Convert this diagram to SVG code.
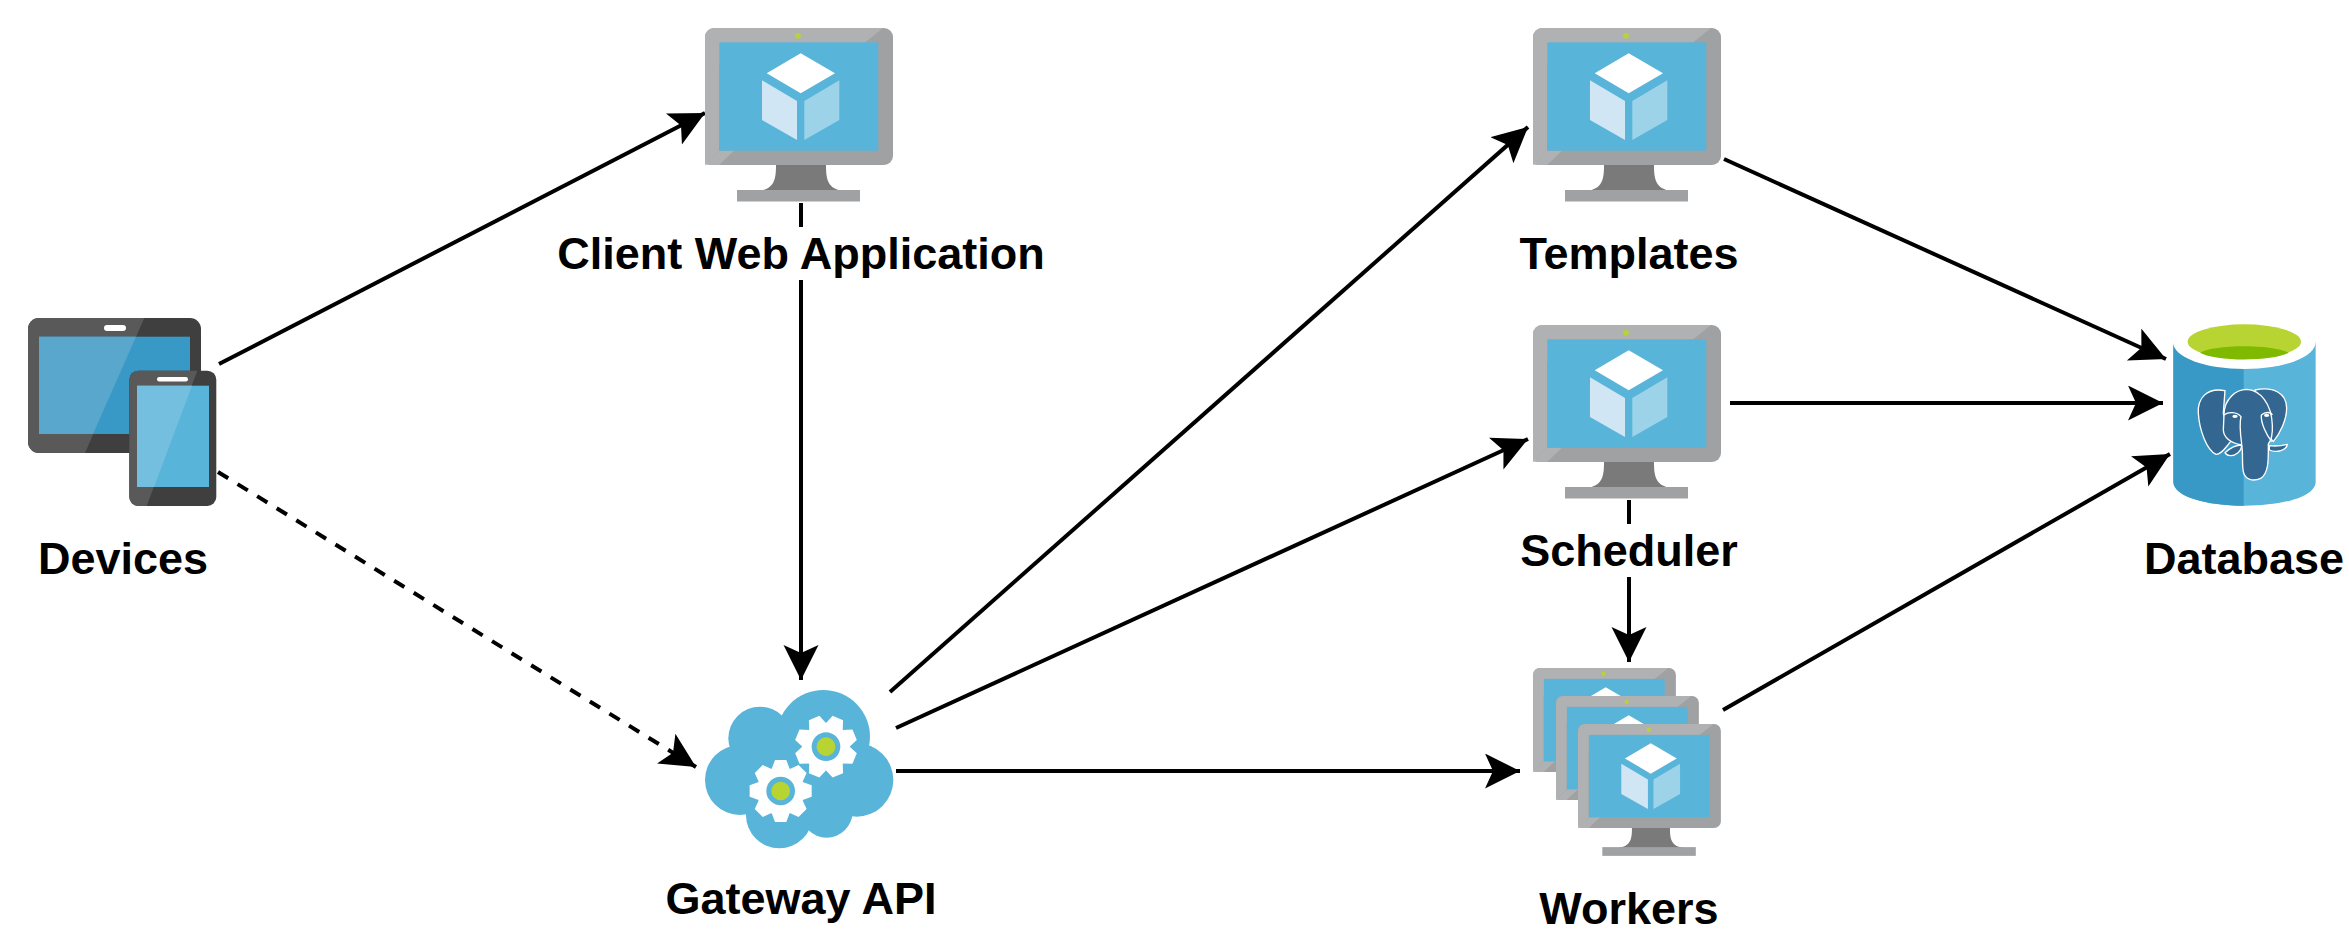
<svg xmlns="http://www.w3.org/2000/svg" xmlns:xlink="http://www.w3.org/1999/xlink" width="2349" height="935" viewBox="0 0 2349 935">
<style>
.lbl{font-family:"Liberation Sans",Arial,sans-serif;font-weight:700;font-size:45px;fill:#000;text-anchor:middle}
.c{fill:none;stroke:#000;stroke-width:4}
.d{stroke-dasharray:12 11}
.cl{fill:#59b4d9}
.el{fill:#336791;stroke:#fff;stroke-width:4;stroke-linejoin:round}
</style>
<defs>
<marker id="ah" markerUnits="userSpaceOnUse" markerWidth="40" markerHeight="40" refX="35" refY="17.500" orient="auto">
<path d="M35 17.500L0 0L8 17.500L0 35Z" fill="#000"/>
</marker>
<g id="mon">
<path d="M71 137H121C121 150 122 162 140 163H52C70 162 71 150 71 137Z" fill="#7a7a7a"/>
<rect x="32" y="162" width="123" height="11.500" fill="#a0a1a2"/>
<rect x="0" y="0" width="188" height="137" rx="9" fill="#a0a1a2"/>
<path d="M9 0H178L132 37H14V122.700L0 137V9A9 9 0 0 1 9 0Z" fill="#b0b1b2"/>
<path d="M14 122.700L0 136.500Q3 137 14 137L29 122.700Z" fill="#b0b1b2"/>
<rect x="14.300" y="14.300" width="159" height="108.400" fill="#59b4d9"/>
<circle cx="93" cy="7.700" r="2.800" fill="#b8d432"/>
<path d="M95.700 25.300L130 45.300L95.700 65.300L61.700 45.300Z" fill="#fff"/>
<path d="M57 52.300L92 73V112L57 92Z" fill="#d0e6f4"/>
<path d="M99.300 73L134.300 52.300V92L99.300 112Z" fill="#9cd3e9"/>
</g>
<path id="tooth" d="M-27 -66L-17 -93H17L27 -66Z" fill="#fff"/>
<g id="gear">
<circle r="72" fill="#fff"/>
<use xlink:href="#tooth"/>
<use xlink:href="#tooth" transform="rotate(45)"/>
<use xlink:href="#tooth" transform="rotate(90)"/>
<use xlink:href="#tooth" transform="rotate(135)"/>
<use xlink:href="#tooth" transform="rotate(180)"/>
<use xlink:href="#tooth" transform="rotate(225)"/>
<use xlink:href="#tooth" transform="rotate(270)"/>
<use xlink:href="#tooth" transform="rotate(315)"/>
<circle r="43" fill="#59b4d9"/>
<circle r="28" fill="#b8d432"/>
</g>
</defs>
<g id="connectors">
<path class="c" d="M219 364L705 113" marker-end="url(#ah)"/>
<path class="c d" d="M218 472L696 767" marker-end="url(#ah)"/>
<path class="c" d="M801 203V680" marker-end="url(#ah)"/>
<path class="c" d="M890 692L1528 127" marker-end="url(#ah)"/>
<path class="c" d="M896 728L1528 439" marker-end="url(#ah)"/>
<path class="c" d="M896 771H1520" marker-end="url(#ah)"/>
<path class="c" d="M1629 500V662" marker-end="url(#ah)"/>
<path class="c" d="M1724 159L2166 359" marker-end="url(#ah)"/>
<path class="c" d="M1730 403H2163" marker-end="url(#ah)"/>
<path class="c" d="M1723 710L2170 454" marker-end="url(#ah)"/>
</g>
<g id="devices">
<rect x="28" y="318" width="173" height="135" rx="11" fill="#3f3f3f"/>
<path d="M39 318H144.300L85 453H39A11 11 0 0 1 28 442V329A11 11 0 0 1 39 318Z" fill="#595959"/>
<rect x="39" y="336.700" width="151" height="97.300" fill="#3999c6"/>
<path d="M39 336.700H136L93 434H39Z" fill="#59a7cd"/>
<rect x="104" y="325" width="22" height="6" rx="3" fill="#fff"/>
<rect x="129.300" y="370.700" width="87" height="135.300" rx="9" fill="#3f3f3f"/>
<path d="M138 370.700H197.300L146.700 506H138A9 9 0 0 1 129.300 497V379.700A9 9 0 0 1 138 370.700Z" fill="#595959"/>
<rect x="137" y="385.700" width="72" height="101.300" fill="#59b4d9"/>
<path d="M137 385.700H192L154 487H137Z" fill="#74bfdf"/>
<rect x="157" y="377" width="31" height="4.500" rx="2.200" fill="#fff"/>
<text class="lbl" x="123" y="574">Devices</text>
</g>
<g id="client-web-application">
<use xlink:href="#mon" x="705" y="28"/>
<rect x="550" y="227" width="500" height="53" fill="#fff"/>
<text class="lbl" x="801" y="269">Client Web Application</text>
</g>
<g id="gateway-api">
<g transform="translate(680 670) scale(0.3333)">
<circle class="cl" cx="430" cy="200" r="140"/>
<circle class="cl" cx="240" cy="205" r="95"/>
<circle class="cl" cx="180" cy="330" r="105"/>
<circle class="cl" cx="530" cy="330" r="110"/>
<circle class="cl" cx="298" cy="435" r="100"/>
<circle class="cl" cx="440" cy="425" r="78"/>
<rect class="cl" x="200" y="250" width="320" height="185"/>
<use xlink:href="#gear" transform="translate(438 230) rotate(22.500)"/>
<use xlink:href="#gear" transform="translate(302 363)"/>
</g>
<text class="lbl" x="801" y="914">Gateway API</text>
</g>
<g id="templates">
<use xlink:href="#mon" x="1533" y="28"/>
<text class="lbl" x="1629" y="269">Templates</text>
</g>
<g id="scheduler">
<use xlink:href="#mon" x="1533" y="325"/>
<rect x="1515" y="524" width="230" height="53" fill="#fff"/>
<text class="lbl" x="1629" y="566">Scheduler</text>
</g>
<g id="workers">
<use xlink:href="#mon" transform="translate(1533 668) scale(0.76)"/>
<use xlink:href="#mon" transform="translate(1556 696) scale(0.76)"/>
<use xlink:href="#mon" transform="translate(1578 724) scale(0.76)"/>
<text class="lbl" x="1629" y="924">Workers</text>
</g>
<g id="database">
<g transform="translate(2140 300) scale(0.3333)">
<path d="M100 127V545C100 590 200 617 313 617C430 617 527 590 527 545V127Z" fill="#59b4d9"/>
<path d="M100 127V545C100 590 200 617 311 617V127Z" fill="#3999c6"/>
<ellipse cx="313" cy="127" rx="214" ry="80" fill="#fff"/>
<ellipse cx="313" cy="125" rx="170" ry="52" fill="#b8d432"/>
<path d="M180 158C220 132 400 132 446 158C400 185 225 185 180 158Z" fill="#7fba00"/>
<path class="el" d="M255 272C200 262 172 295 175 340C178 390 200 450 228 463C245 465 262 435 272 425L250 340Z"/>
<path class="el" d="M345 270C400 258 440 280 440 325C440 360 420 400 400 425L380 400Z"/>
<path class="el" d="M252 345C252 295 290 268 320 268C360 270 395 310 397 375C398 395 395 420 385 432C385 470 388 520 362 535C340 545 315 540 310 515C305 490 310 460 305 435C280 430 252 420 250 390Z"/>
<path class="el" d="M255 458C275 440 295 435 305 435C305 455 285 468 270 467C262 467 258 463 255 458Z"/>
<path class="el" d="M388 437C410 440 430 436 442 433C440 450 410 460 388 450Z"/>
<path d="M252 345C265 335 290 335 303 350C298 370 300 395 305 432" fill="none" stroke="#fff" stroke-width="4"/>
<path d="M364 345C375 335 392 335 397 345M364 345C362 370 380 405 395 425" fill="none" stroke="#fff" stroke-width="4"/>
<ellipse cx="285" cy="349" rx="8" ry="5" fill="#fff"/>
<ellipse cx="380" cy="346" rx="8" ry="5" fill="#fff"/>
</g>
<text class="lbl" x="2244" y="574">Database</text>
</g>
</svg>
